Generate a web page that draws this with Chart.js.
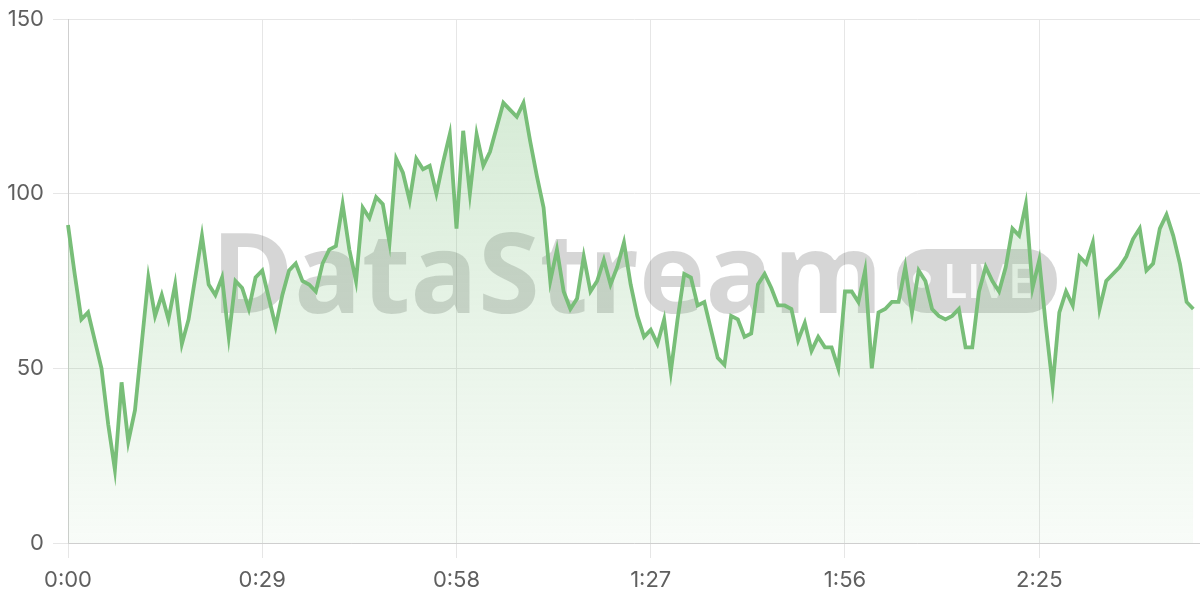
<!DOCTYPE html>
<html>
<head>
<meta charset="utf-8">
<style>
  html, body { margin: 0; padding: 0; background: #fff; }
  #wrap { width: 1200px; height: 600px; }
</style>
<script src="https://cdn.jsdelivr.net/npm/chart.js@4.4.1/dist/chart.umd.min.js"></script>
</head>
<body>
<div id="wrap"><canvas id="myChart"></canvas></div>
<script>
// one sample per second, 0:00 .. 2:48 (axis runs to 2:49)
const values = [
  91, 77, 64, 66, 58, 50, 34, 21, 46, 29,
  38, 57, 76, 65, 71, 64, 74, 57, 64, 76,
  88, 74, 71, 76, 59, 75, 73, 67, 76, 78,
  70, 62, 71, 78, 80, 75, 74, 72, 80, 84,
  85, 97, 84, 75, 96, 93, 99, 97, 86, 110,
  106, 98, 110, 107, 108, 100, 109, 117, 90, 118,
  100, 117, 108, 112, 119, 126, 124, 122, 126, 115,
  105, 96, 75, 84, 72, 67, 70, 82, 72, 75,
  81, 74, 79, 86, 74, 65, 59, 61, 57, 64,
  49, 64, 77, 76, 68, 69, 61, 53, 51, 65,
  64, 59, 60, 74, 77, 73, 68, 68, 67, 58,
  63, 55, 59, 56, 56, 50, 72, 72, 69, 78,
  50, 66, 67, 69, 69, 79, 66, 78, 75, 67,
  65, 64, 65, 67, 56, 56, 72, 79, 75, 72,
  79, 90, 88, 97, 73, 81, 62, 45, 66, 72,
  68, 82, 80, 86, 67, 75, 77, 79, 82, 87,
  90, 78, 80, 90, 94, 88, 80, 69, 67
];
const axisSeconds = 170;
const labelEvery = 29;
const yTicks = [0, 50, 100, 150];

const labels = [];
for (let s = 0; s < axisSeconds; s++) {
  labels.push(Math.floor(s / 60) + ':' + String(s % 60).padStart(2, '0'));
}

const watermark = {
  id: 'watermark',
  beforeDatasetsDraw(chart) {
    const { ctx, chartArea } = chart;
    const cx = (chartArea.left + chartArea.right) / 2;
    const cy = (chartArea.top + chartArea.bottom) / 2;
    ctx.save();
    ctx.font = 'bold 112px "Open Sans"';
    const tw = ctx.measureText('DataStream').width;
    const pillW = 160, pillH = 64, gap = 14;
    const x0 = cx - (tw + gap + pillW) / 2;
    ctx.fillStyle = 'rgba(0,0,0,0.16)';
    ctx.textBaseline = 'alphabetic';
    ctx.fillText('DataStream', x0, cy + 32);
    const px = x0 + tw + gap, py = cy - pillH / 2;
    ctx.beginPath();
    ctx.roundRect(px, py, pillW, pillH, 30);
    ctx.fill();
    ctx.fillStyle = 'rgba(255,255,255,0.85)';
    ctx.beginPath();
    ctx.arc(px + 25, cy - 2, 9, 0, Math.PI * 2);
    ctx.fill();
    ctx.font = '600 47px "Open Sans"';
    ctx.fillText('LIVE', px + 46, cy + 17, 90);
    ctx.restore();
  }
};

const ctx = document.getElementById('myChart').getContext('2d');
const myChart = new Chart(ctx, {
  type: 'line',
  data: {
    labels: labels,
    datasets: [{
      data: values,
      borderColor: 'rgb(120, 190, 120)',
      borderWidth: 3.8,
      pointRadius: 0,
      tension: 0,
      fill: 'origin',
      backgroundColor: (c) => {
        const area = c.chart.chartArea;
        if (!area) return 'rgba(120,190,120,0.2)';
        const g = c.chart.ctx.createLinearGradient(0, area.top, 0, area.bottom);
        g.addColorStop(0, 'rgba(120,190,120,0.35)');
        g.addColorStop(1, 'rgba(120,190,120,0.05)');
        return g;
      }
    }]
  },
  options: {
    responsive: true,
    maintainAspectRatio: false,
    animation: false,
    layout: { padding: { top: 19, right: 0, left: 0, bottom: 0 } },
    plugins: { legend: { display: false }, tooltip: { enabled: false } },
    scales: {
      x: {
        afterFit: (s) => {
          s.height = 57;
          s.paddingLeft = 0; s.paddingRight = 0;
          s.paddingTop = 0; s.paddingBottom = 0;
        },
        border: { color: '#cfcfcf' },
        grid: {
          tickLength: 15,
          color: (c) => (c.index % labelEvery === 0 ? '#e6e6e6' : 'transparent')
        },
        ticks: {
          autoSkip: false,
          maxRotation: 0,
          padding: 9,
          color: '#5f5f5f',
          font: { family: 'Inter', size: 22 },
          callback: function (v, i) { return i % labelEvery === 0 ? this.getLabelForValue(v) : ''; }
        }
      },
      y: {
        min: yTicks[0],
        max: yTicks[yTicks.length - 1],
        afterFit: (s) => {
          s.width = 68;
          s.paddingLeft = 0; s.paddingRight = 0;
          s.paddingTop = 0; s.paddingBottom = 0;
        },
        afterBuildTicks: (s) => { s.ticks = yTicks.map(v => ({ value: v })); },
        border: { color: '#cfcfcf' },
        grid: { tickLength: 15, color: '#e6e6e6' },
        ticks: {
          padding: 9,
          color: '#5f5f5f',
          font: { family: 'Inter', size: 22 }
        }
      }
    }
  },
  plugins: [watermark]
});
</script>
</body>
</html>
